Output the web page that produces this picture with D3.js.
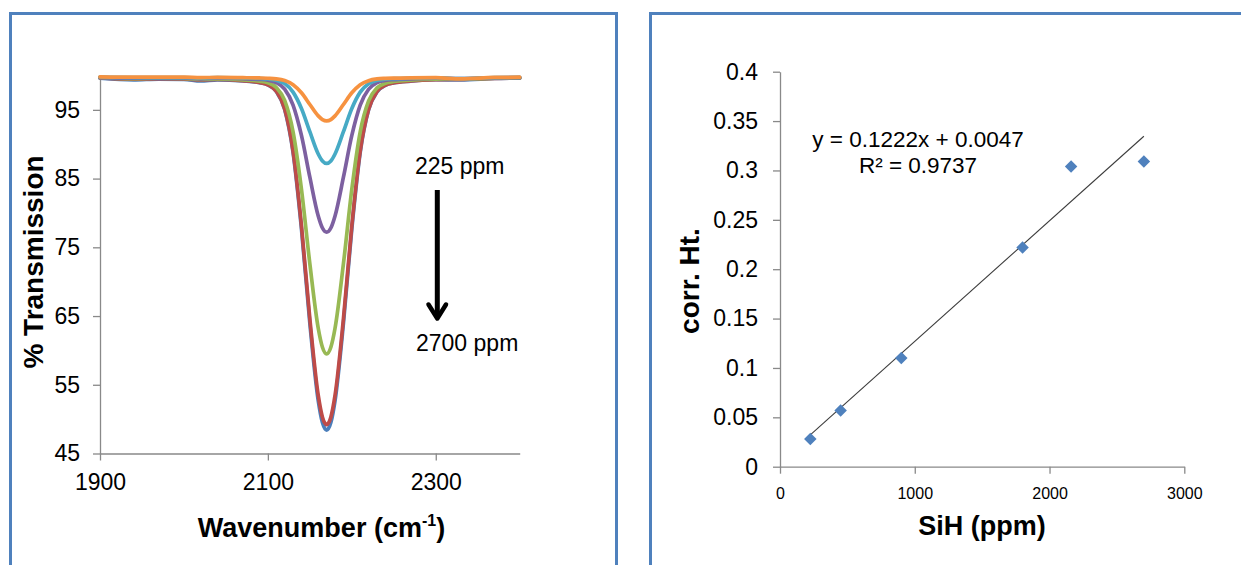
<!DOCTYPE html>
<html>
<head>
<meta charset="utf-8">
<script src="https://cdn.jsdelivr.net/npm/d3@7"></script>
<style>
  html, body { margin: 0; padding: 0; background: #fff; }
  svg { display: block; }
  text { font-family: "Liberation Sans", Arial, sans-serif; fill: #000; }
</style>
</head>
<body>
<svg id="chart" width="1241" height="565"></svg>
<script>
// ---------------- data: FTIR spectra (left) ----------------
const wavenumber = [1900, 1940, 1970, 2000, 2020, 2040, 2070, 2090, 2100, 2110, 2120, 2130, 2140, 2150, 2160, 2165, 2170, 2175, 2180, 2190, 2200, 2210, 2220, 2230, 2240, 2250, 2270, 2300, 2330, 2370, 2400];
const trans2700 = [99.6, 99.35, 99.48, 99.45, 99.2, 99.35, 99.2, 98.96, 98.63, 97.69, 95.06, 88.8, 77.7, 63.94, 52.69, 49.5, 48.4, 49.5, 52.69, 63.94, 77.7, 88.8, 95.0, 97.62, 98.58, 98.92, 99.18, 99.38, 99.35, 99.56, 99.62];
const trans2160 = [99.65, 99.48, 99.55, 99.52, 99.35, 99.42, 99.24, 98.98, 98.65, 97.73, 95.17, 89.03, 78.15, 64.59, 53.46, 50.29, 49.2, 50.29, 53.46, 64.59, 78.15, 89.03, 95.1, 97.68, 98.6, 98.94, 99.2, 99.4, 99.45, 99.58, 99.64];
const trans1800 = [99.7, 99.55, 99.6, 99.58, 99.42, 99.5, 99.37, 99.17, 98.93, 98.26, 96.37, 91.79, 83.44, 72.6, 63.22, 60.46, 59.5, 60.46, 63.22, 72.6, 83.44, 91.79, 96.3, 98.2, 98.88, 99.12, 99.33, 99.48, 99.5, 99.61, 99.66];
const trans900 = [99.7, 99.62, 99.65, 99.64, 99.52, 99.6, 99.53, 99.44, 99.32, 98.98, 98.03, 95.7, 91.28, 85.2, 79.56, 77.81, 77.2, 77.81, 79.56, 85.2, 91.28, 95.7, 98.0, 98.95, 99.28, 99.4, 99.5, 99.6, 99.55, 99.66, 99.7];
const trans450 = [99.75, 99.7, 99.7, 99.7, 99.62, 99.68, 99.62, 99.56, 99.5, 99.32, 98.82, 97.58, 95.2, 91.82, 88.58, 87.56, 87.2, 87.56, 88.58, 91.82, 95.2, 97.58, 98.8, 99.3, 99.47, 99.54, 99.6, 99.65, 99.55, 99.7, 99.72];
const trans225 = [99.8, 99.75, 99.75, 99.75, 99.7, 99.72, 99.68, 99.64, 99.6, 99.52, 99.27, 98.66, 97.48, 95.78, 94.12, 93.59, 93.4, 93.59, 94.12, 95.78, 97.48, 98.66, 99.25, 99.5, 99.58, 99.62, 99.66, 99.68, 99.5, 99.72, 99.75];
const seriesColors = ["#4A7EBB", "#BE4B48", "#98B954", "#7D60A0", "#46AAC5", "#F69240"];
const specXTicks = [1900, 2100, 2300];
const specYTicks = [45, 55, 65, 75, 85, 95];

// ---------------- data: calibration (right) ----------------
const sihPpm = [225, 450, 900, 1800, 2160, 2700];
const corrHt = [0.028, 0.057, 0.110, 0.222, 0.304, 0.309];
const trendSlope = 0.1222;      // per 1000 ppm
const trendIntercept = 0.0047;
const calXTicks = [0, 1000, 2000, 3000];
const calYTicks = [0, 0.05, 0.1, 0.15, 0.2, 0.25, 0.3, 0.35, 0.4];
const calYLabels = ["0", "0.05", "0.1", "0.15", "0.2", "0.25", "0.3", "0.35", "0.4"];

const svg = d3.select("#chart");
const AXIS = "#898989";

// panel frames
svg.append("rect").attr("x", 10.5).attr("y", 13.5).attr("width", 606).attr("height", 620)
  .attr("fill", "#fff").attr("stroke", "#4F81BD").attr("stroke-width", 3);
svg.append("rect").attr("x", 650.5).attr("y", 13.5).attr("width", 700).attr("height", 620)
  .attr("fill", "#fff").attr("stroke", "#4F81BD").attr("stroke-width", 3);

function styleAxis(g) {
  g.selectAll("path.domain").attr("stroke", AXIS).attr("stroke-width", 1.3);
  g.selectAll(".tick line").attr("stroke", AXIS).attr("stroke-width", 1.3);
}

// ---------------- left chart ----------------
const xS = d3.scaleLinear().domain([1900, 2400]).range([100, 519.7]);
const yS = d3.scaleLinear().domain([45, 100]).range([453.5, 75.5]);

const gxL = svg.append("g").attr("transform", "translate(0,453.5)")
  .call(d3.axisBottom(xS).tickValues(specXTicks).tickSize(7).tickSizeOuter(0).tickPadding(13).tickFormat(d3.format("d")));
gxL.selectAll("text").attr("font-size", 23).attr("font-family", "Liberation Sans, Arial, sans-serif").attr("fill", "#000");
styleAxis(gxL);

const gyL = svg.append("g").attr("transform", "translate(100,0)")
  .call(d3.axisLeft(yS).tickValues(specYTicks).tickSize(7).tickSizeOuter(0).tickPadding(13).tickFormat(d3.format("d")));
gyL.selectAll("text").attr("font-size", 23).attr("font-family", "Liberation Sans, Arial, sans-serif").attr("fill", "#000");
styleAxis(gyL);

const specSeries = [trans2700, trans2160, trans1800, trans900, trans450, trans225];
const line = d3.line().x((d, i) => xS(wavenumber[i])).y(d => yS(d)).curve(d3.curveMonotoneX);
svg.append("g").selectAll("path").data(specSeries).join("path")
  .attr("d", d => line(d))
  .attr("fill", "none")
  .attr("stroke", (d, i) => seriesColors[i])
  .attr("stroke-width", 3.7)
  .attr("stroke-linejoin", "round")
  .attr("stroke-linecap", "round");

// annotation arrow
svg.append("text").attr("x", 415).attr("y", 174).attr("font-size", 23).text("225 ppm");
svg.append("text").attr("x", 416).attr("y", 350.5).attr("font-size", 23).text("2700 ppm");
svg.append("line").attr("x1", 437.3).attr("x2", 437.3).attr("y1", 190).attr("y2", 316)
  .attr("stroke", "#000").attr("stroke-width", 5);
svg.append("path").attr("d", "M428.5,304.5 L437.3,318.5 L446,304.5")
  .attr("fill", "none").attr("stroke", "#000").attr("stroke-width", 4.5)
  .attr("stroke-linecap", "round").attr("stroke-linejoin", "round");

// axis titles (left)
svg.append("text").attr("transform", "translate(43,262) rotate(-90)")
  .attr("text-anchor", "middle").attr("font-size", 28).attr("font-weight", "bold")
  .text("% Transmission");
const wt = svg.append("text").attr("x", 321.5).attr("y", 536.5)
  .attr("text-anchor", "middle").attr("font-size", 27).attr("font-weight", "bold");
wt.append("tspan").text("Wavenumber (cm");
wt.append("tspan").attr("font-size", 16).attr("dy", -11).text("-1");
wt.append("tspan").attr("dy", 11).text(")");

// ---------------- right chart ----------------
const xR = d3.scaleLinear().domain([0, 3000]).range([780, 1184.3]);
const yR = d3.scaleLinear().domain([0, 0.4]).range([466.7, 71.7]);

const gxR = svg.append("g").attr("transform", "translate(0,466.7)")
  .call(d3.axisBottom(xR).tickValues(calXTicks).tickSize(7).tickSizeOuter(0).tickPadding(14).tickFormat(d3.format("d")));
gxR.selectAll("text").attr("font-size", 16).attr("font-family", "DejaVu Sans, Verdana, sans-serif").attr("fill", "#000");
styleAxis(gxR);

const gyR = svg.append("g").attr("transform", "translate(780,0)")
  .call(d3.axisLeft(yR).tickValues(calYTicks).tickSize(7).tickSizeOuter(0).tickPadding(15)
    .tickFormat((d, i) => calYLabels[i]));
gyR.selectAll("text").attr("font-size", 23).attr("font-family", "Liberation Sans, Arial, sans-serif").attr("fill", "#000");
styleAxis(gyR);

// trendline
const xFirst = d3.min(sihPpm), xLast = d3.max(sihPpm);
svg.append("line")
  .attr("x1", xR(xFirst)).attr("y1", yR(trendSlope * xFirst / 1000 + trendIntercept))
  .attr("x2", xR(xLast)).attr("y2", yR(trendSlope * xLast / 1000 + trendIntercept))
  .attr("stroke", "#3c3c3c").attr("stroke-width", 1.1);

// markers
svg.append("g").selectAll("path").data(sihPpm).join("path")
  .attr("d", d3.symbol(d3.symbolSquare, 78))
  .attr("transform", (d, i) => `translate(${xR(d)},${yR(corrHt[i])}) rotate(45)`)
  .attr("fill", "#4F81BD");

// equation
svg.append("text").attr("x", 918).attr("y", 146.7).attr("text-anchor", "middle").attr("font-size", 22.5)
  .text("y = 0.1222x + 0.0047");
svg.append("text").attr("x", 918).attr("y", 173.3).attr("text-anchor", "middle").attr("font-size", 22.5)
  .text("R² = 0.9737");

// axis titles (right)
svg.append("text").attr("transform", "translate(699,281) rotate(-90)")
  .attr("text-anchor", "middle").attr("font-size", 28).attr("font-weight", "bold")
  .text("corr. Ht.");
svg.append("text").attr("x", 982).attr("y", 535).attr("text-anchor", "middle")
  .attr("font-size", 27).attr("font-weight", "bold").text("SiH (ppm)");
</script>
</body>
</html>
